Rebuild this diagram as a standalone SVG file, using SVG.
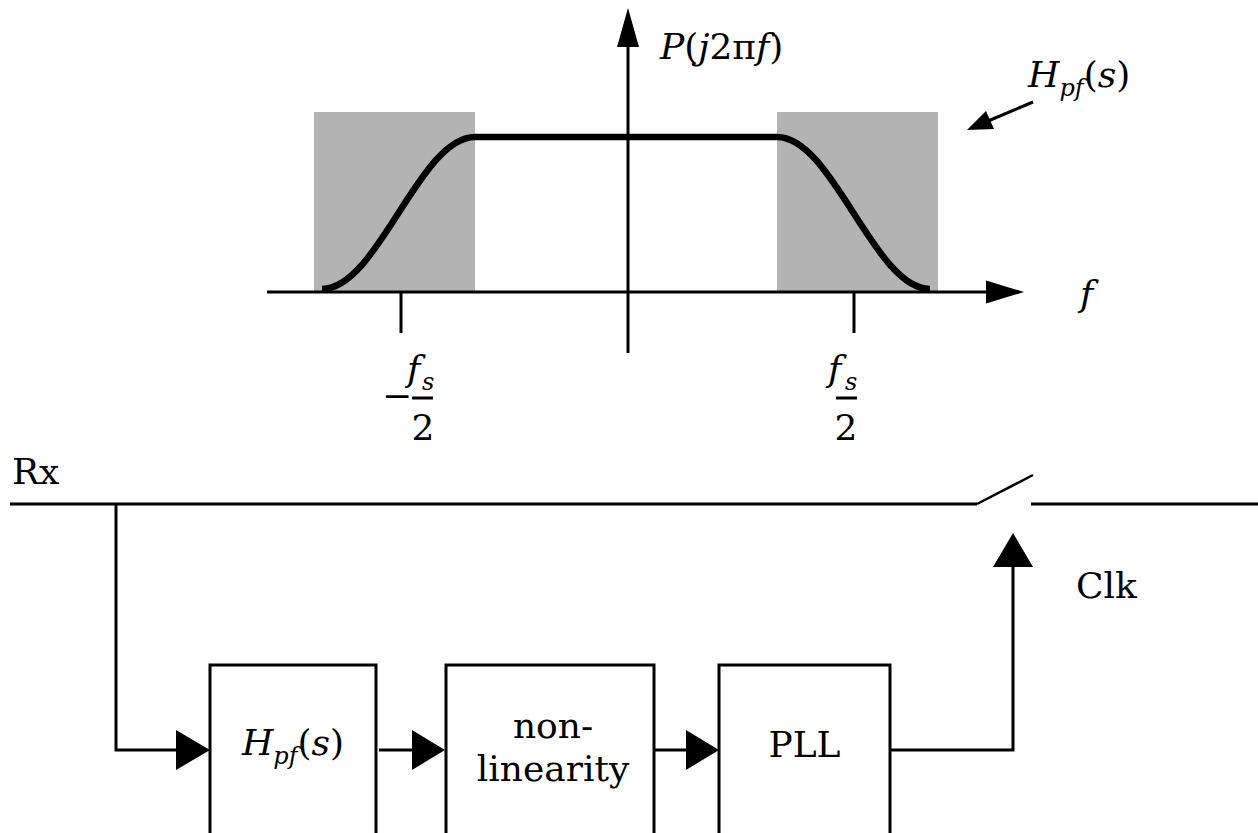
<svg xmlns="http://www.w3.org/2000/svg" width="1258" height="833" viewBox="0 0 1258 833">
<defs>
<style>
text{font-size:36px;fill:#000}
.it{font-style:italic}
.sub{font-size:24px;font-style:italic}
.ln{stroke:#000;stroke-width:3;fill:none}
.thick{stroke:#000;stroke-width:6.5;fill:none}
.head{fill:#000;stroke:none}
.band{fill:#b3b3b3;stroke:none}
.box{fill:#fff;stroke:#000;stroke-width:3}
</style>
</defs>
<rect width="1258" height="833" fill="#fff"/>

<g id="plot">
<rect class="band" x="314" y="112" width="161" height="180"/>
<rect class="band" x="777" y="112" width="161" height="180"/>
<line class="ln" x1="628" y1="45" x2="628" y2="353"/>
<polygon class="head" points="628,8 617,47 639,47"/>
<line class="ln" x1="267" y1="292" x2="988" y2="292"/>
<polygon class="head" points="1024,292 986,280.5 986,303.5"/>
<line class="ln" x1="401" y1="292" x2="401" y2="333"/>
<line class="ln" x1="854" y1="292" x2="854" y2="333"/>
<path class="thick" d="M322,289 C378,289 419,137 475,137 L777,137 C833,137 874,289 930,289"/>
<text font-family="DejaVu Serif" x="660" y="59"><tspan class="it">P</tspan>(<tspan class="it">j</tspan>2π<tspan class="it">f</tspan>)</text>
<text font-family="DejaVu Serif" class="it" x="1080" y="306">f</text>
</g>

<g id="label-neg-fs2">
<text font-family="DejaVu Serif" x="382" y="408" font-size="25">−</text>
<text font-family="DejaVu Serif" class="it" x="407" y="381">f</text>
<text font-family="DejaVu Serif" class="sub" x="422" y="390">s</text>
<line x1="412" y1="398" x2="433" y2="398" stroke="#000" stroke-width="3"/>
<text font-family="DejaVu Serif" x="423" y="440" text-anchor="middle" font-size="38">2</text>
</g>

<g id="label-fs2">
<text font-family="DejaVu Serif" class="it" x="828" y="381">f</text>
<text font-family="DejaVu Serif" class="sub" x="845" y="390">s</text>
<line x1="836" y1="398" x2="857" y2="398" stroke="#000" stroke-width="3"/>
<text font-family="DejaVu Serif" x="846" y="440" text-anchor="middle" font-size="38">2</text>
</g>

<g id="label-hpf">
<text font-family="DejaVu Serif" x="1028" y="87"><tspan class="it">H</tspan><tspan class="sub" dy="9">pf</tspan><tspan dy="-9">(</tspan><tspan class="it">s</tspan>)</text>
</g>

<g id="rx-line">
<text font-family="DejaVu Serif" x="12" y="484">Rx</text>
<line class="ln" x1="10" y1="504" x2="977" y2="504"/>
<line x1="977" y1="504" x2="1033" y2="475" stroke="#000" stroke-width="2.5"/>
<line class="ln" x1="1031" y1="504" x2="1258" y2="504"/>
<text font-family="DejaVu Serif" x="1076" y="598">Clk</text>
</g>

<g id="node-hpf">
<rect class="box" x="210" y="665" width="166" height="190"/>
<text font-family="DejaVu Serif" x="293" y="755" text-anchor="middle"><tspan class="it">H</tspan><tspan class="sub" dy="9">pf</tspan><tspan dy="-9">(</tspan><tspan class="it">s</tspan>)</text>
</g>

<g id="node-nonlinearity">
<rect class="box" x="446" y="665" width="208" height="190"/>
<text font-family="DejaVu Serif" x="553" y="738" text-anchor="middle">non-</text>
<text font-family="DejaVu Serif" x="553" y="781" text-anchor="middle">linearity</text>
</g>

<g id="node-pll">
<rect class="box" x="719" y="665" width="171" height="190"/>
<text font-family="DejaVu Serif" x="804.5" y="757" text-anchor="middle">PLL</text>
</g>

<g id="connectors">
<path class="ln" d="M116,504 V750 H178"/>
<polygon class="head" points="210,750 176,730 176,770"/>
<path class="ln" d="M379,750 H414"/>
<polygon class="head" points="445,750 412,730 412,770"/>
<path class="ln" d="M654,750 H688"/>
<polygon class="head" points="719,750 686,730 686,770"/>
<path class="ln" d="M890,750 H1013 V565"/>
<polygon class="head" points="1013,533 993,567 1033,567"/>
<line class="ln" x1="1033" y1="102" x2="988" y2="121"/>
<polygon class="head" points="967,130 986,111 994,129"/>
</g>
</svg>
